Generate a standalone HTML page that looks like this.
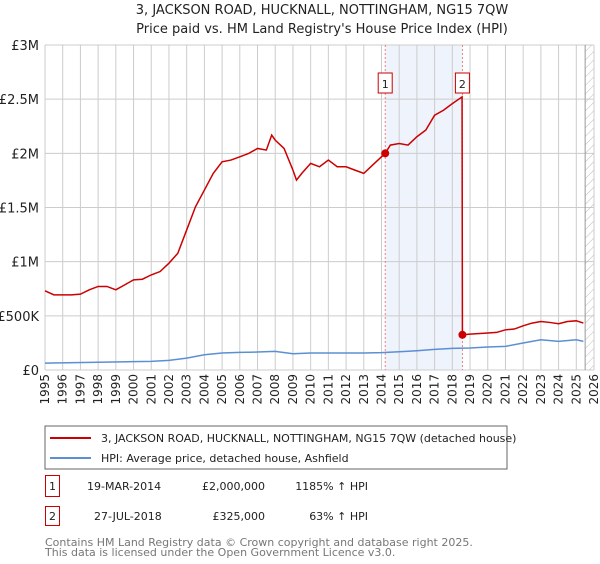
<!DOCTYPE html>
<html><head><meta charset="utf-8"><style>
body{margin:0;background:#fff;font-family:"DejaVu Sans","Liberation Sans",sans-serif;}
svg text{font-family:"DejaVu Sans","Liberation Sans",sans-serif;}
</style></head><body>
<svg id="c" width="600" height="560" xmlns="http://www.w3.org/2000/svg">
<defs><pattern id="hatch" width="6" height="6" patternUnits="userSpaceOnUse" patternTransform="rotate(45)"><line x1="0" y1="0" x2="0" y2="6" stroke="#bbb" stroke-width="1"/></pattern></defs>
<text x="322" y="14" text-anchor="middle" font-size="13" fill="#222">3, JACKSON ROAD, HUCKNALL, NOTTINGHAM, NG15 7QW</text>
<text x="322" y="33" text-anchor="middle" font-size="13" fill="#222">Price paid vs. HM Land Registry's House Price Index (HPI)</text>
<g id="grid"></g><g id="marks"></g>
<rect x="45" y="426" width="462" height="43" fill="none" stroke="#666"/>
<line x1="50" y1="438" x2="91" y2="438" stroke="#cc0000" stroke-width="2"/>
<text x="101" y="442" font-size="11" fill="#222">3, JACKSON ROAD, HUCKNALL, NOTTINGHAM, NG15 7QW (detached house)</text>
<line x1="50" y1="458" x2="91" y2="458" stroke="#5b8fd4" stroke-width="2"/>
<text x="101" y="462" font-size="11" fill="#222">HPI: Average price, detached house, Ashfield</text>
<rect x="45.5" y="475.5" width="14" height="21" fill="none" stroke="#cc0000"/>
<text x="52.5" y="490" text-anchor="middle" font-size="11" fill="#222">1</text>
<text x="87" y="490" font-size="11" fill="#222">19-MAR-2014</text>
<text x="265" y="490" text-anchor="end" font-size="11" fill="#222">£2,000,000</text>
<text x="368" y="490" text-anchor="end" font-size="11" fill="#222">1185% ↑ HPI</text>
<rect x="45.5" y="506.5" width="14" height="19" fill="none" stroke="#cc0000"/>
<text x="52.5" y="520" text-anchor="middle" font-size="11" fill="#222">2</text>
<text x="94" y="520" font-size="11" fill="#222">27-JUL-2018</text>
<text x="265" y="520" text-anchor="end" font-size="11" fill="#222">£325,000</text>
<text x="368" y="520" text-anchor="end" font-size="11" fill="#222">63% ↑ HPI</text>
<text x="45" y="546" font-size="11" fill="#777">Contains HM Land Registry data © Crown copyright and database right 2025.</text>
<text x="45" y="556" font-size="11" fill="#777">This data is licensed under the Open Government Licence v3.0.</text>
</svg>
<script>
const yTicks=[0,500000,1000000,1500000,2000000,2500000,3000000];
const yTickLabels=["£0","£500K","£1M","£1.5M","£2M","£2.5M","£3M"];
const years=[1995,1996,1997,1998,1999,2000,2001,2002,2003,2004,2005,2006,2007,2008,2009,2010,2011,2012,2013,2014,2015,2016,2017,2018,2019,2020,2021,2022,2023,2024,2025,2026];
const redT=[1995,1995.5,1996,1996.5,1997,1997.5,1998,1998.5,1999,1999.5,2000,2000.5,2001,2001.5,2002,2002.5,2003,2003.5,2004,2004.5,2005,2005.5,2006,2006.5,2007,2007.5,2007.8,2008,2008.5,2009,2009.2,2009.5,2010,2010.5,2011,2011.5,2012,2012.5,2013,2013.5,2014.21,2014.5,2015,2015.5,2016,2016.5,2017,2017.5,2018,2018.55,2018.57,2019,2020,2020.5,2021,2021.5,2022,2022.5,2023,2023.5,2024,2024.5,2025,2025.4];
const redV=[731000,694000,694000,694000,700000,740000,771000,771000,740000,786000,832000,838000,878000,909000,986000,1078000,1293000,1508000,1661000,1815000,1922000,1938000,1968000,1999000,2045000,2030000,2168000,2122000,2045000,1845000,1753000,1815000,1907000,1876000,1938000,1876000,1876000,1845000,1815000,1892000,2000000,2076000,2091000,2076000,2153000,2214000,2352000,2398000,2459000,2521000,325000,331000,341000,347000,371000,378000,408000,433000,448000,439000,427000,448000,454000,433000];
const hpiT=[1995,1998,2000,2001,2002,2003,2004,2005,2006,2007,2008,2009,2010,2011,2012,2013,2014,2015,2016,2017,2018,2019,2020,2021,2022,2023,2024,2025,2025.4];
const hpiV=[64000,71000,77000,80000,89000,110000,141000,157000,163000,166000,172000,150000,157000,157000,157000,157000,160000,169000,178000,190000,200000,203000,212000,218000,249000,279000,264000,279000,264000];
const saleT=[2014.21,2018.57];
const saleV=[2000000,325000];
const saleLabels=["1","2"];
const X0=45,X1=594,Y0=370,Y1=45;
const xs=t=>X0+(t-1995)/(2026-1995)*(X1-X0);
const ys=v=>Y0-v/3000000*(Y0-Y1);
const NS="http://www.w3.org/2000/svg";
function mk(tag,attrs,parent){const e=document.createElementNS(NS,tag);for(const k in attrs)e.setAttribute(k,attrs[k]);parent.appendChild(e);return e;}
const g=document.getElementById('grid'),m=document.getElementById('marks');
let e=mk('rect',{x:xs(saleT[0]),y:Y1,width:xs(saleT[1])-xs(saleT[0]),height:Y0-Y1,fill:'#eef3fc'},g);


years.forEach(yr=>{const x=xs(yr);
 let l=mk('line',{x1:x,x2:x,y1:Y1,y2:Y0,stroke:'#ccc'},g);
 
 
 let t=mk('text',{x:0,y:0,'font-size':12,fill:'#222','text-anchor':'end',transform:`translate(${x+4},${Y0+4}) rotate(-90)`},g);t.textContent=yr;
 
 
});
yTicks.forEach((v,i)=>{const y=ys(v);
 let l=mk('line',{x1:X0,x2:X1,y1:y,y2:y,stroke:'#ccc'},g);
 
 
 let t=mk('text',{x:39,y:y+5,'font-size':13,fill:'#222','text-anchor':'end'},g);t.textContent=yTickLabels[i];
 
 
});
e=mk('rect',{x:xs(2025.5),y:Y1,width:X1-xs(2025.5),height:Y0-Y1,fill:'url(#hatch)'},g);


e=mk('line',{x1:xs(2025.5),x2:xs(2025.5),y1:Y1,y2:Y0,stroke:'#999'},g);


saleT.forEach((t,i)=>{const x=xs(t);
 let l=mk('line',{x1:x,x2:x,y1:Y1,y2:Y0,stroke:'#e66','stroke-dasharray':'2,2','stroke-width':0.8},g);
 
 
 let r=mk('rect',{x:x-7,y:73,width:14,height:20,fill:'#fff',stroke:'#cc0000'},m);
 
 
 let tx=mk('text',{x:x,y:88,'font-size':11,'text-anchor':'middle',fill:'#222'},m);tx.textContent=saleLabels[i];
});
e=mk('polyline',{points:hpiT.map((t,i)=>xs(t)+','+ys(hpiV[i])).join(' '),fill:'none',stroke:'#5b8fd4','stroke-width':1.5},m);


e=mk('polyline',{points:redT.map((t,i)=>xs(t)+','+ys(redV[i])).join(' '),fill:'none',stroke:'#cc0000','stroke-width':1.5},m);


saleT.forEach((t,i)=>{
 let c=mk('circle',{cx:xs(t),cy:ys(saleV[i]),r:4,fill:'#cc0000'},m);
 
 
});
</script>
</body></html>
